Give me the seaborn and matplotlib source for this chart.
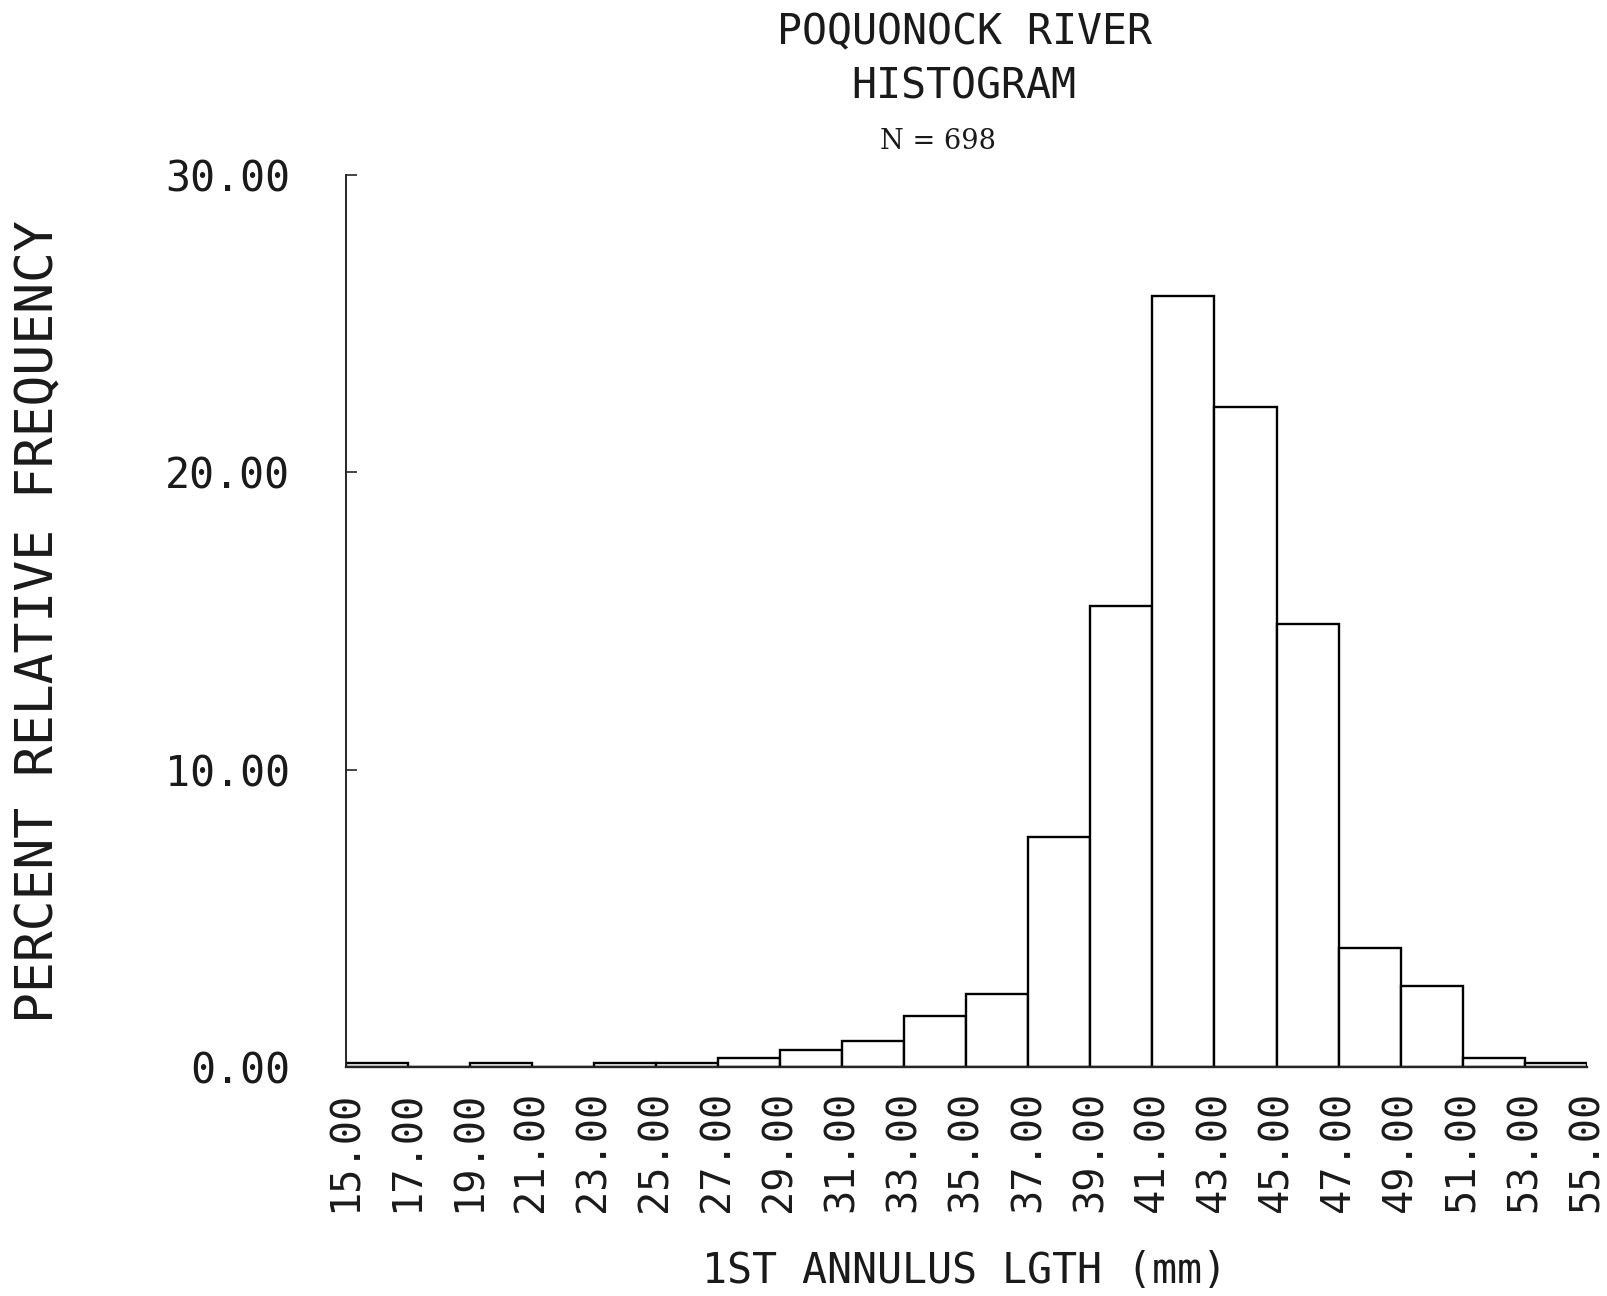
import numpy as np
import seaborn as sns
import matplotlib.pyplot as plt
from matplotlib.ticker import FormatStrFormatter

# bin edges (mm) and percent relative frequency per 2 mm bin
bin_edges = [15, 17, 19, 21, 23, 25, 27, 29, 31, 33, 35, 37, 39, 41, 43, 45, 47, 49, 51, 53, 55]
percent = [0.14, 0.00, 0.14, 0.00, 0.14, 0.14, 0.29, 0.57, 0.86, 1.72,
           2.44, 7.74, 15.52, 25.93, 22.21, 14.90, 4.01, 2.72, 0.29, 0.14]
y_ticks = [0, 10, 20, 30]

sns.set_style("ticks")
plt.rcParams['font.family'] = ['DejaVu Sans Mono', 'DejaVu Sans']

fig = plt.figure(figsize=(16.07, 12.96), dpi=100)
ax = fig.add_axes([0.215, 0.1767, 0.7725, 0.6883])

centers = (np.array(bin_edges[:-1]) + np.array(bin_edges[1:])) / 2
sns.histplot(x=centers, weights=percent, bins=bin_edges, stat="count",
             color="white", edgecolor="black", linewidth=1.7, alpha=1, ax=ax)

ax.set_xlim(15, 55)
ax.set_ylim(0, 30)
ax.set_xticks(bin_edges)
ax.set_yticks(y_ticks)
ax.xaxis.set_major_formatter(FormatStrFormatter('%.2f'))
ax.yaxis.set_major_formatter(FormatStrFormatter('%.2f'))
ax.tick_params(axis='x', length=0, pad=17, labelsize=29, labelrotation=90)
ax.tick_params(axis='y', direction='in', length=8, width=1.2, pad=40, labelsize=30)
for lab in ax.get_xticklabels() + ax.get_yticklabels():
    lab.set_color('#1a1a1a')

for s in ['top', 'right']:
    ax.spines[s].set_visible(False)
ax.spines['left'].set_linewidth(1.4)
ax.spines['bottom'].set_linewidth(1.7)
ax.set_xlabel("")
ax.set_ylabel("")

fig.text(0.600, 0.019, "1ST ANNULUS LGTH (mm)", ha='center', va='center',
         fontsize=30, color='#1a1a1a')
fig.text(0.0245, 0.52, "PERCENT RELATIVE FREQUENCY", ha='center', va='center',
         rotation=90, fontsize=37, color='#1a1a1a')

fig.text(0.600, 0.975, "POQUONOCK RIVER", ha='center', va='center', fontsize=30,
         color='#1a1a1a')
fig.text(0.600, 0.933, "HISTOGRAM", ha='center', va='center', fontsize=30,
         color='#1a1a1a')
fig.text(0.584, 0.891, "N = 698", ha='center', va='center', fontsize=19.5,
         family=['DejaVu Serif'], color='#1a1a1a')

fig.savefig("out.png", dpi=100)
